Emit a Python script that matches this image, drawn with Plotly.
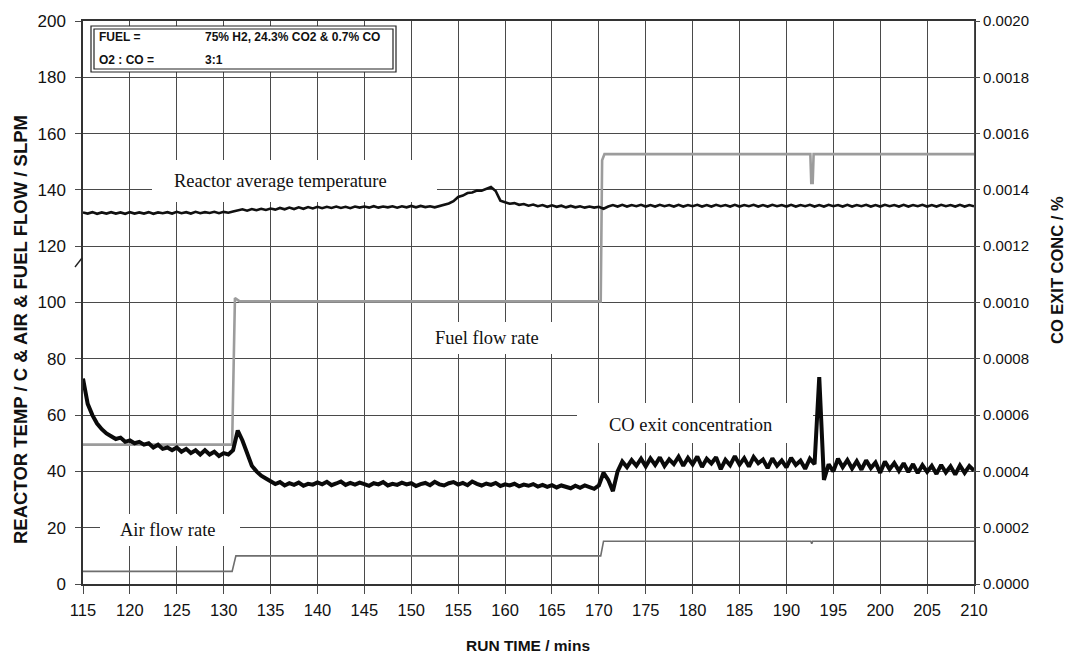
import plotly.graph_objects as go

# ---------------- data ----------------
# sampled every 0.5 min from 115 to 210 min
t_start = 115.0
t_step = 0.5

reactor_temp_c = [
    132.0, 131.6, 132.1, 131.5, 132.0, 131.6, 132.1, 131.6, 132.0, 131.5,
    132.1, 131.6, 132.0, 131.6, 132.1, 131.5, 132.0, 131.7, 132.1, 131.6,
    132.2, 131.7, 132.1, 131.6, 132.2, 131.7, 132.1, 131.8, 132.2, 131.7,
    132.2,
    131.9, 132.3,
    132.6, 133.1, 132.6, 133.2, 132.8, 133.3, 132.9, 133.4,
    133.0, 133.6, 133.1, 133.7, 133.2, 133.8, 133.3, 133.9, 133.4, 134.0,
    133.5, 134.0, 133.6, 134.1, 133.6, 134.0, 133.5, 134.1, 133.7, 134.1,
    133.7, 134.2, 133.7, 134.1, 133.8, 134.2, 133.7, 134.2, 133.8, 134.3,
    133.8, 134.3, 133.9, 134.2, 133.8, 134.3, 134.6,
    135.2, 136.0, 137.5, 138.0, 138.9, 139.1, 139.8, 139.7, 140.4, 141.0,
    139.6, 136.2, 135.6,
    135.1, 135.3, 134.7, 135.0, 134.4, 134.8, 134.2, 134.6, 134.0, 134.5,
    134.0, 134.4, 133.8, 134.3, 133.8, 134.2, 133.7, 134.1, 133.7, 134.0,
    133.3, 134.1,
    134.6, 134.1, 134.7, 134.1, 134.6, 134.2, 134.7, 134.1, 134.6, 134.1,
    134.7, 134.2, 134.6, 134.1, 134.7, 134.1, 134.6, 134.2, 134.7, 134.1,
    134.6, 134.1, 134.7, 134.2, 134.6, 134.1, 134.7, 134.1, 134.6, 134.2,
    134.7, 134.1, 134.6, 134.1, 134.7, 134.2, 134.6, 134.1, 134.7, 134.1,
    134.6, 134.2, 134.7, 134.1, 134.6, 134.1, 134.7, 134.2, 134.6, 134.1,
    134.7, 134.1, 134.6, 134.2, 134.7, 134.1, 134.6, 134.1, 134.7, 134.2,
    134.6, 134.1, 134.7, 134.1, 134.6, 134.2, 134.7, 134.1, 134.6, 134.1,
    134.7, 134.2, 134.6, 134.1, 134.7, 134.1, 134.6, 134.2,
]

# CO exit concentration, in units of 1e-4 %
co_exit_pct_x1e4 = [
    7.30, 6.40, 6.00, 5.70, 5.50, 5.35, 5.25, 5.15, 5.20, 5.05,
    5.10, 5.00, 5.05, 4.95, 5.00, 4.85, 4.95, 4.80, 4.85, 4.75,
    4.85, 4.70, 4.80, 4.65, 4.75, 4.60, 4.75, 4.60, 4.70, 4.55,
    4.65, 4.60, 4.75, 5.45, 5.10, 4.60, 4.20, 4.00, 3.85, 3.75, 3.65,
    3.55, 3.62, 3.50, 3.58, 3.52, 3.60, 3.49, 3.56, 3.53, 3.61,
    3.54, 3.63, 3.51, 3.57, 3.64, 3.52, 3.59, 3.53, 3.60, 3.55,
    3.49, 3.58, 3.54, 3.62, 3.50, 3.56, 3.52, 3.60, 3.54, 3.58,
    3.48, 3.55, 3.59, 3.51, 3.63, 3.54, 3.50, 3.58, 3.62, 3.53,
    3.59, 3.51, 3.64, 3.56, 3.50, 3.57, 3.52, 3.59, 3.48, 3.54,
    3.50, 3.56, 3.47, 3.53, 3.49, 3.55, 3.46, 3.52, 3.45, 3.51,
    3.43, 3.50, 3.46, 3.40, 3.49, 3.42, 3.50, 3.43, 3.38, 3.50,
    3.95, 3.70, 3.30, 4.00, 4.35, 4.15, 4.40, 4.20, 4.45,
    4.18, 4.46, 4.23, 4.50, 4.19, 4.43, 4.26, 4.52, 4.20, 4.48,
    4.25, 4.53, 4.16, 4.45, 4.28, 4.50, 4.08, 4.41, 4.22, 4.54,
    4.24, 4.47, 4.17, 4.51, 4.29, 4.42, 4.12, 4.46, 4.20, 4.39,
    4.14, 4.48, 4.23, 4.38, 4.09, 4.45, 4.26,
    7.35,
    3.70, 4.25, 4.00, 4.45, 4.15, 4.40, 4.10, 4.36, 4.06, 4.39,
    4.12, 4.32, 3.95, 4.35, 4.08, 4.30, 4.02, 4.29, 3.98, 4.26,
    3.94, 4.22, 3.98, 4.20, 3.91, 4.23, 3.96, 4.18, 3.89, 4.21, 3.95, 4.19, 4.03,
]

# step-like flow records (time in min, flow in SLPM)
fuel_time = [115.0, 130.9, 131.2, 131.7, 170.2, 170.35, 170.6, 192.55, 192.65, 192.8, 192.9, 210.0]
fuel_flow = [49.5, 49.5, 101.6, 100.4, 100.4, 150.5, 152.7, 152.7, 142.5, 142.5, 152.7, 152.7]

air_time = [115.0, 130.9, 131.3, 170.2, 170.5, 192.6, 192.7, 192.8, 210.0]
air_flow = [4.5, 4.5, 10.0, 10.0, 15.2, 15.2, 14.3, 15.2, 15.2]

x_ticks = list(range(115, 211, 5))
y_ticks = list(range(0, 201, 20))
y2_ticks = [0.0000, 0.0002, 0.0004, 0.0006, 0.0008, 0.0010, 0.0012, 0.0014, 0.0016, 0.0018, 0.0020]

assert len(reactor_temp_c) == len(co_exit_pct_x1e4) == 191
run_time = [t_start + t_step * i for i in range(len(reactor_temp_c))]
co_exit_pct = [v * 1e-4 for v in co_exit_pct_x1e4]

# ---------------- layout helpers ----------------
W, H = 1073, 657
PL, PR, PT, PB = 83, 974, 21, 584


def px_x(p):
    return (p - PL) / (PR - PL)


def px_y(p):
    return (PB - p) / (PB - PT)


SANS = "Arial, Liberation Sans, sans-serif"
SERIF = "Times New Roman, Liberation Serif, serif"
GRID = "#4a4a4a"

fig = go.Figure()
fig.add_trace(go.Scatter(x=air_time, y=air_flow, mode="lines",
                         line=dict(color="#6e6e6e", width=1.6), name="Air flow rate"))
fig.add_trace(go.Scatter(x=fuel_time, y=fuel_flow, mode="lines",
                         line=dict(color="#9c9c9c", width=2.6), name="Fuel flow rate"))
fig.add_trace(go.Scatter(x=run_time, y=reactor_temp_c, mode="lines",
                         line=dict(color="#111111", width=2.6), name="Reactor average temperature"))
fig.add_trace(go.Scatter(x=run_time, y=co_exit_pct, mode="lines", yaxis="y2",
                         line=dict(color="#0a0a0a", width=4.0), name="CO exit concentration"))

fig.update_layout(
    width=W, height=H,
    margin=dict(l=PL, r=W - PR, t=PT, b=H - PB, pad=0),
    paper_bgcolor="white", plot_bgcolor="white",
    showlegend=False,
    xaxis=dict(range=[115, 210], tickvals=x_ticks, ticktext=[str(v) for v in x_ticks],
               showgrid=True, gridcolor=GRID, gridwidth=1.2, zeroline=False,
               showline=True, linecolor="#333333", linewidth=1.5, mirror=True,
               ticks="outside", ticklen=8, tickcolor=GRID, tickwidth=1.2,
               ticklabelstandoff=2,
               tickfont=dict(family=SANS, size=16.5, color="#111111")),
    yaxis=dict(range=[0, 200], tickvals=y_ticks,
               showgrid=True, gridcolor=GRID, gridwidth=1.2, zeroline=False,
               showline=True, linecolor="#333333", linewidth=1.5, mirror=True,
               ticks="outside", ticklen=6, tickcolor=GRID, tickwidth=1.2,
               ticklabelstandoff=6,
               tickfont=dict(family=SANS, size=17, color="#111111")),
    yaxis2=dict(range=[0, 0.002], tickvals=y2_ticks, tickformat=".4f",
                overlaying="y", side="right", showgrid=False, zeroline=False,
                showline=True, linecolor=GRID, linewidth=1.2,
                ticks="outside", ticklen=5, tickcolor=GRID, tickwidth=1.2,
                tickfont=dict(family=SANS, size=15, color="#111111")),
)

shapes = []
# info box (double border)
shapes.append(dict(type="rect", xref="paper", yref="paper", layer="above",
                   x0=px_x(91), x1=px_x(396), y0=px_y(72), y1=px_y(26),
                   line=dict(color="#222222", width=1.2), fillcolor="white"))
shapes.append(dict(type="rect", xref="paper", yref="paper", layer="above",
                   x0=px_x(94), x1=px_x(393), y0=px_y(69), y1=px_y(29),
                   line=dict(color="#222222", width=1.2), fillcolor="rgba(0,0,0,0)"))
# white backgrounds behind the series labels
for (x0, x1, y0, y1) in [(152, 437, 160, 202), (414, 562, 322, 354),
                         (577, 813, 403, 443), (100, 240, 514, 546)]:
    shapes.append(dict(type="rect", xref="paper", yref="paper", layer="above",
                       x0=px_x(x0), x1=px_x(x1), y0=px_y(y1), y1=px_y(y0),
                       line=dict(width=0), fillcolor="white"))
# axis break mark
shapes.append(dict(type="line", xref="paper", yref="paper", layer="above",
                   x0=px_x(75), x1=px_x(82), y0=px_y(267), y1=px_y(258),
                   line=dict(color="#222222", width=1.4)))
fig.update_layout(shapes=shapes)

ann = []
box_font = dict(family=SANS, size=12, color="#111111", weight="bold")
for txt, x, y in [("FUEL =", 97, 37.5), ("75% H2, 24.3% CO2 & 0.7% CO", 203, 37.5),
                  ("O2 : CO =", 97, 60), ("3:1", 203, 60)]:
    ann.append(dict(text=txt, xref="paper", yref="paper", x=px_x(x), y=px_y(y),
                    xanchor="left", yanchor="middle", showarrow=False, font=box_font))

label_font = dict(family=SERIF, size=18.5, color="#111111")
for txt, x, y in [("Reactor average temperature", 280, 181), ("Fuel flow rate", 487, 338),
                  ("CO exit concentration", 690, 425), ("Air flow rate", 168, 530)]:
    ann.append(dict(text=txt, xref="paper", yref="paper", x=px_x(x), y=px_y(y),
                    xanchor="center", yanchor="middle", showarrow=False, font=label_font))

ann.append(dict(text="REACTOR TEMP / C & AIR & FUEL FLOW / SLPM", xref="paper", yref="paper",
                x=px_x(20), y=px_y(330), textangle=-90, xanchor="center", yanchor="middle",
                showarrow=False, font=dict(family=SANS, size=18.5, color="#111111", weight="bold")))
ann.append(dict(text="CO EXIT CONC / %", xref="paper", yref="paper",
                x=px_x(1057), y=px_y(270), textangle=-90, xanchor="center", yanchor="middle",
                showarrow=False, font=dict(family=SANS, size=16.5, color="#111111", weight="bold")))
ann.append(dict(text="RUN TIME / mins", xref="paper", yref="paper",
                x=px_x(528), y=px_y(645), xanchor="center", yanchor="middle",
                showarrow=False, font=dict(family=SANS, size=15.5, color="#111111", weight="bold")))
fig.update_layout(annotations=ann)

fig.write_html("out.html", config={"displayModeBar": False},
               post_script="document.body.style.margin='0';")
